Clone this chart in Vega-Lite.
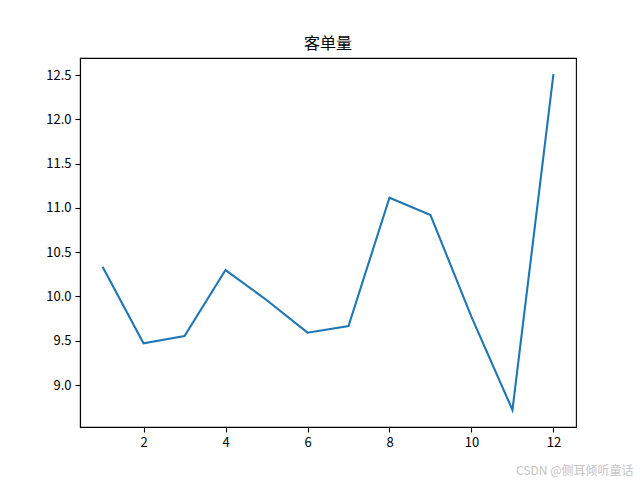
{
  "$schema": "https://vega.github.io/schema/vega-lite/v6.json",
  "width": 496,
  "height": 369,
  "autosize": {"type": "none"},
  "padding": {"left": 80, "top": 58, "right": 64, "bottom": 53},
  "background": "white",
  "title": {
    "text": "客单量",
    "font": "Noto Sans CJK SC",
    "fontSize": 16,
    "fontWeight": "normal",
    "color": "black",
    "anchor": "middle",
    "offset": 6
  },
  "data": {
    "values": [
      {"month": 1, "value": 10.336},
      {"month": 2, "value": 9.471},
      {"month": 3, "value": 9.553},
      {"month": 4, "value": 10.298},
      {"month": 5, "value": 9.96},
      {"month": 6, "value": 9.591},
      {"month": 7, "value": 9.666},
      {"month": 8, "value": 11.115},
      {"month": 9, "value": 10.919},
      {"month": 10, "value": 9.77},
      {"month": 11, "value": 8.718},
      {"month": 12, "value": 12.51}
    ]
  },
  "mark": {"type": "line", "color": "#1f77b4", "strokeWidth": 2.1},
  "encoding": {
    "x": {
      "field": "month",
      "type": "quantitative",
      "scale": {"domain": [0.45, 12.55], "nice": false, "zero": false},
      "axis": {
        "values": [2, 4, 6, 8, 10, 12],
        "grid": false,
        "title": "CSDN @侧耳倾听童话",
        "titleFont": "Noto Sans CJK SC",
        "titleFontSize": 12,
        "titleFontWeight": "normal",
        "titleColor": "#c4c4c4",
        "titleAlign": "right",
        "titleBaseline": "middle",
        "titleAnchor": null,
        "titleX": 553,
        "titleY": 43
      }
    },
    "y": {
      "field": "value",
      "type": "quantitative",
      "scale": {"domain": [8.526, 12.692], "nice": false, "zero": false},
      "axis": {
        "values": [9.0, 9.5, 10.0, 10.5, 11.0, 11.5, 12.0, 12.5],
        "format": ".1f",
        "grid": false,
        "title": null
      }
    }
  },
  "config": {
    "view": {"stroke": "black", "strokeWidth": 1.1},
    "axis": {
      "domainColor": "black",
      "domainWidth": 1.1,
      "tickColor": "black",
      "tickWidth": 1.1,
      "tickSize": 5,
      "labelPadding": 4,
      "labelFont": "Noto Sans CJK SC",
      "labelFontSize": 13,
      "labelColor": "black"
    }
  }
}
